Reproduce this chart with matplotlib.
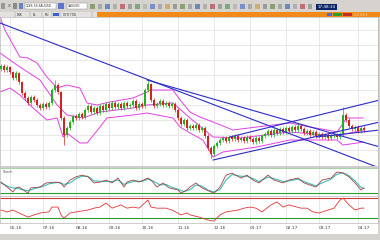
import matplotlib
matplotlib.use("Agg")
import matplotlib.pyplot as plt
from matplotlib.patches import Rectangle

# ---------------- data ----------------
opens = [101,104,100,103,98,92,97,88,77,72,
         67,73,70,65,62,66,63,67,80,85,
         78,52,35,42,48,54,52,56,53,60,
         64,58,62,57,64,60,66,62,67,63,
         66,62,67,64,65,69,62,66,64,80,
         86,70,64,66,69,65,67,64,66,60,
         52,46,50,42,44,42,45,40,42,34,
         22,16,24,27,30,32,29,33,31,34,
         30,32,29,33,31,28,32,29,34,36,
         39,35,40,37,41,38,42,39,43,40,
         44,41,37,39,35,38,34,36,33,35,
         32,34,35,33,36,55,50,44,41,43,
         39,42]
closes = [104,100,103,98,92,97,88,77,72,67,
          73,70,65,62,66,63,67,80,85,78,
          52,35,42,48,54,52,56,53,60,64,
          58,62,57,64,60,66,62,67,63,66,
          62,67,64,65,69,62,66,64,80,86,
          70,64,66,69,65,67,64,66,60,52,
          46,50,42,44,42,45,40,42,34,22,
          16,24,27,30,32,29,33,31,34,30,
          32,29,33,31,28,32,29,34,36,39,
          35,40,37,41,38,42,39,43,40,44,
          41,37,39,35,38,34,36,33,35,32,
          34,35,33,36,55,50,44,41,43,39,
          42,40]
highs = [106,106,105,104,99,99,98,89,79,74,
         75,75,72,67,68,68,69,82,90,87,
         79,54,44,50,56,56,58,58,62,66,
         66,64,64,66,66,68,68,69,69,68,
         68,69,69,67,71,71,68,68,82,90,
         87,72,68,71,71,69,69,68,68,62,
         54,52,52,46,46,47,47,44,44,36,
         24,26,29,32,34,34,35,35,36,36,
         34,34,35,35,33,34,34,36,38,41,
         41,42,42,43,43,44,44,45,45,47,
         46,43,41,41,40,40,38,38,37,37,
         36,37,37,38,63,57,52,46,45,45,
         44,44]
lows = [99,98,98,96,90,90,86,75,70,65,
        65,68,63,60,60,61,61,65,78,76,
        50,25,33,40,46,50,50,51,51,58,
        56,56,55,55,58,58,60,60,61,61,
        60,60,62,62,63,60,60,62,62,78,
        68,62,62,64,63,63,62,62,58,50,
        44,44,40,40,40,40,38,38,32,20,
        12,14,22,25,28,27,27,29,29,28,
        28,27,27,29,26,26,27,27,32,34,
        33,33,35,35,36,36,37,37,38,38,
        39,35,35,33,33,32,32,31,31,30,
        30,32,31,31,34,48,42,39,39,37,
        37,38]

bb_upper_x = [-0.3,1.3,3.7,6.3,9,12,15.3,18.7,22,26.3,28.7,32,36.3,44,48.7,49.7,57.3,59.7,63,66.3,70.7,77.3,85.3,96.3,103,108.7,112,115.3,120.7]
bb_upper_y = [153,140,127,113,112,107,93,82,85,82,67,65,68,72,78,80,80,70,58,53,48,40,43,47,43,40,38,52,52]
bb_mid_x = [-0.3,6.3,13,18.7,22,27.3,33,44,48.7,57.3,63,70.7,79.7,96.3,112,120.7]
bb_mid_y = [117,103,90,65,55,52,58,62,65,67,52,33,32,38,34,40]
bb_lower_x = [-0.3,3,6.3,10.7,15.3,18.7,20.7,22,26.3,28.7,33,35.3,44,48.7,57.3,59.7,63,67.3,70.7,74,85.3,96.3,103,112,114,118.7,120.7]
bb_lower_y = [78,82,75,62,50,52,33,37,27,27,43,52,55,57,52,43,37,30,13,18,23,30,30,30,25,27,28]

# trend lines: (bar0, price0, bar1, price1)
trend_lines = [(-0.33, 147, 125.3, 3),
               (48.7, 90, 126.3, 23),
               (76.3, 33, 126.3, 70),
               (70.7, 10, 126.3, 48),
               (105.3, 33, 126.3, 40)]

stoch_x = [0,2,4,5,6,9,10,13,15,18,20,21,23,25,27,29,31,33,35,37,39,41,42,44,46,49,50,52,54,56,59,60,62,63,65,67,70,71,73,75,77,80,82,84,86,89,91,94,96,99,101,103,105,107,110,112,114,116,118,120,121]
stoch_k = [48,31,14,28,31,10,28,31,45,48,45,31,55,66,72,66,45,48,55,45,62,31,48,55,48,62,55,31,45,28,21,10,21,31,45,28,14,10,31,72,79,62,72,55,45,72,55,45,55,62,45,38,31,55,62,83,79,66,45,21,28]
stoch_sx = [0,3,6,9,11,14,16,19,21,23,25,27,29,31,34,37,39,41,43,45,47,49,51,53,55,57,59,61,63,65,67,69,71,73,75,77,80,82,84,86,89,91,94,96,99,101,103,105,107,110,112,114,116,118,120,121]
stoch_d = [45,30,25,18,25,33,42,47,40,45,60,68,68,52,50,50,55,40,47,52,50,58,50,38,40,30,23,15,22,38,34,20,14,22,55,74,68,68,60,50,65,60,50,52,58,50,42,35,45,58,75,80,70,52,30,26]

osc_x = [0,2,4,6,9,11,13,16,17,19,20,21,23,25,29,31,33,35,37,40,42,44,46,49,50,52,55,57,60,62,63,66,69,71,73,75,79,81,83,85,87,90,92,94,96,100,102,104,106,109,111,113,114,116,118,120,121]
osc_v = [48,41,48,37,22,30,37,41,59,59,30,18,37,41,48,55,59,74,55,67,55,59,55,85,59,55,55,48,30,37,30,22,11,7,30,41,48,55,59,55,41,67,78,59,67,55,55,41,37,48,55,85,92,67,48,55,55]

date_ticks = [3, 14, 25, 36, 47, 59, 71, 83, 95, 106, 119]
date_labels = ["05.16", "07.16", "08.16", "09.16", "10.16", "11.16",
               "12.16", "01.17", "02.17", "03.17", "04.17"]

# ---------------- layout ----------------
W, H = 380, 240
fig = plt.figure(figsize=(3.8, 2.4), dpi=100)
fig.patch.set_facecolor('white')

def add_ax(x0, y0, x1, y1, **kw):
    return fig.add_axes([x0 / W, 1 - y1 / H, (x1 - x0) / W, (y1 - y0) / H], **kw)

XLIM = (-1 / 3, 377 / 3)
GRID = '#dedede'
SP = '#b8b8b8'

def style(ax):
    ax.set_xlim(*XLIM)
    ax.set_facecolor('white')
    for s in ax.spines.values():
        s.set_color(SP)
        s.set_linewidth(0.5)
    ax.tick_params(length=0, labelleft=False, labelbottom=False)
    for t in date_ticks:
        ax.axvline(t, color=GRID, lw=0.5, zorder=0)

# main price panel
ax = add_ax(0, 17, 378, 166)
style(ax)
ax.set_ylim(4, 153)
ax.set_yticks([])
for v in range(20, 150, 15):
    ax.axhline(v, color=GRID, lw=0.5, zorder=0)

for i, (o, h, l, c) in enumerate(zip(opens, highs, lows, closes)):
    col = '#22b022' if c >= o else '#d82020'
    ax.vlines(i, l, h, color=col, lw=0.5, zorder=3)
    ax.bar(i, max(abs(c - o), 0.8), bottom=min(o, c), width=0.7,
           color=col, lw=0, zorder=3)

bcol = '#e040e0'
ax.plot(bb_upper_x, bb_upper_y, color=bcol, lw=0.7, zorder=2)
ax.plot(bb_mid_x, bb_mid_y, color=bcol, lw=0.7, zorder=2)
ax.plot(bb_lower_x, bb_lower_y, color=bcol, lw=0.7, zorder=2)

for (x0, y0, x1, y1) in trend_lines:
    ax.plot([x0, x1], [y0, y1], color='#2b2bc8', lw=0.8, zorder=4)

# stochastic panel
ax2 = add_ax(0, 167, 378, 196)
style(ax2)
ax2.set_ylim(0, 100)
ax2.set_yticks([])
ax2.axhline(96, color='#9cc89c', lw=0.6)
ax2.axhline(10, color='#2d9a2d', lw=0.8)
ax2.plot(stoch_sx, stoch_d, color='#3cc0b8', lw=0.8, zorder=3)
ax2.plot(stoch_x, stoch_k, color='#a04040', lw=0.6, zorder=4)
ax2.text(0.5, 88, "Stoch", fontsize=2.6, color='#555555', va='top', ha='left')

# lower oscillator panel
ax3 = add_ax(0, 196, 378, 223)
style(ax3)
ax3.set_ylim(0, 100)
ax3.set_yticks([])
ax3.axhline(92, color='#d03a3a', lw=0.8)
ax3.axhline(18, color='#2d9a2d', lw=0.8)
ax3.plot(osc_x, osc_v, color='#e03535', lw=0.6, zorder=3)
ax3.set_xticks(date_ticks)
ax3.set_xticklabels(date_labels)
ax3.tick_params(labelbottom=True, labelsize=3.2, labelcolor='#404040', pad=2)
for lab in ax3.get_xticklabels():
    lab.set_ha('left')

# ---------------- window chrome ----------------
ov = fig.add_axes([0, 0, 1, 1], zorder=-5)
ov.set_xlim(0, W)
ov.set_ylim(H, 0)
ov.axis('off')

def rect(x, y, w, h, fc, ec='none', lw=0):
    ov.add_patch(Rectangle((x, y), w, h, facecolor=fc, edgecolor=ec, lw=lw))

rect(0, 0, W, 11.5, '#d6d3ce')
rect(0, 11.5, W, 5.5, '#e4e2de')
rect(97, 12, W - 97, 4.5, '#f28a1a')
rect(0, 234, W, 6, '#d6d3ce')
rect(378, 17, 2, 217, '#d6d3ce')

# toolbar fields and icons
rect(25, 3, 31, 6, 'white', '#8a8a8a', 0.3)
ov.text(26, 6, "1286.58-XAUUSD", fontsize=2.2, color='#333333', va='center')
rect(67, 3, 20, 6, 'white', '#8a8a8a', 0.3)
ov.text(68, 6, "XAUUSD", fontsize=2.2, color='#333333', va='center')
rect(58, 3, 6, 6, '#5a78c8')
rect(1, 3, 4, 6, '#9a9a9a')
ov.text(9, 6, "X", fontsize=3, color='#404040', va='center', ha='center')
rect(13, 3, 4, 6, '#8a8a8a')
rect(19, 3, 4, 6, '#6a80c8')
icon_cols = ['#8aa070', '#a8a8a8', '#7088c0', '#b0b0b0', '#c07070', '#a0a0a0',
             '#80a880', '#b8b8b8', '#7890c8', '#a8a8a8', '#c8b070', '#9a9a9a']
x = 90
k = 0
while x < 312:
    rect(x, 3.5, 4.5, 5, icon_cols[k % len(icon_cols)])
    x += 7.5
    k += 1
rect(316, 3.5, 21, 6.5, '#0c2468')
ov.text(326.5, 6.8, "17:48:34", fontsize=3, color='white', va='center', ha='center')

# tab row
for tx, tl in [(17, "LNK"), (33, "BL"), (45, "LRI"), (63, "ОГЛ ГЛБ")]:
    ov.text(tx, 14.5, tl, fontsize=2.2, color='#333333', va='center')
rect(53, 12.5, 6, 3.5, '#3a5fcf')
for sx in [15, 30, 42, 52, 60, 92]:
    ov.plot([sx, sx], [12, 17], color='#8a8a8a', lw=0.3)
rect(327, 12.5, 5, 3.5, '#4a6ad0')
rect(333, 12.5, 9, 3.5, '#2aa02a')
rect(343, 12.5, 9, 3.5, '#c82828')
ov.text(354, 14.5, "1 2 3 4 5", fontsize=2.2, color='#f0f0f0', va='center')

fig.savefig("out.png", dpi=100)
